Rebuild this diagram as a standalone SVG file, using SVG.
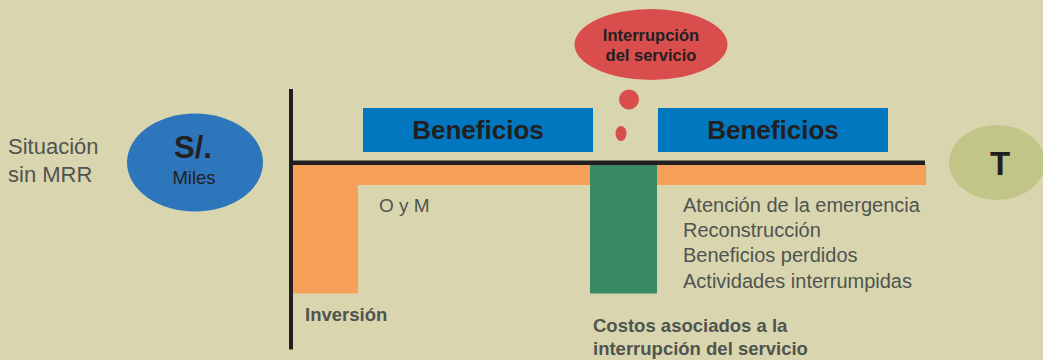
<svg xmlns="http://www.w3.org/2000/svg" width="1043" height="360" viewBox="0 0 1043 360">
<style>
.t{font-family:"Liberation Sans",Arial,sans-serif;fill:#4f5450}
.b{font-family:"Liberation Sans",Arial,sans-serif;font-weight:bold;fill:#231f20}
.g{font-family:"Liberation Sans",Arial,sans-serif;font-weight:bold;fill:#4f5450}
.box{fill:#0077be}
</style>
<rect x="0" y="0" width="1043" height="360" fill="#d9d6af"/>
<g id="situacion">
<text class="t" x="8" y="154" font-size="22">Situación</text>
<text class="t" x="8" y="182" font-size="22">sin MRR</text>
</g>
<g id="soles">
<ellipse cx="195" cy="162.5" rx="68" ry="49" fill="#2e76bb"/>
<text class="b" x="193" y="158" font-size="31" text-anchor="middle">S/.</text>
<text class="t" x="194" y="184" font-size="18.5" text-anchor="middle" style="fill:#231f20">Miles</text>
</g>
<g id="costos">
<rect x="293" y="164.5" width="633" height="20.5" fill="#f7a05a"/>
<rect x="293" y="164.5" width="65" height="129" fill="#f7a05a"/>
<rect x="590" y="164.5" width="67" height="129" fill="#378a63"/>
</g>
<g id="ejes">
<rect x="289" y="89" width="4" height="260.5" fill="#231f20"/>
<rect x="289" y="160.5" width="636" height="4.5" fill="#231f20"/>
</g>
<g id="beneficios1">
<rect class="box" x="363" y="108" width="230" height="44"/>
<text class="b" x="478" y="139" font-size="26" text-anchor="middle">Beneficios</text>
</g>
<g id="beneficios2">
<rect class="box" x="658" y="108" width="230" height="44"/>
<text class="b" x="773" y="139" font-size="26" text-anchor="middle">Beneficios</text>
</g>
<g id="interrupcion">
<ellipse cx="651" cy="44.5" rx="76.5" ry="35.5" fill="#d94d4d"/>
<text class="b" x="651" y="41" font-size="16.5" text-anchor="middle">Interrupción</text>
<text class="b" x="651" y="61" font-size="16.5" text-anchor="middle">del servicio</text>
<circle cx="629" cy="99.5" r="10" fill="#d94d4d"/>
<ellipse cx="621" cy="133.5" rx="5.5" ry="7.5" fill="#d94d4d"/>
</g>
<g id="tiempo">
<ellipse cx="997" cy="162.5" rx="48" ry="37.5" fill="#c2c588"/>
<text class="b" x="1000" y="175" font-size="33" text-anchor="middle">T</text>
</g>
<g id="labels">
<text class="t" x="379" y="212" font-size="19">O y M</text>
<text class="t" x="683" y="212" font-size="20">Atención de la emergencia</text>
<text class="t" x="683" y="237" font-size="20">Reconstrucción</text>
<text class="t" x="683" y="262" font-size="20">Beneficios perdidos</text>
<text class="t" x="683" y="288" font-size="20">Actividades interrumpidas</text>
<text class="g" x="305" y="321" font-size="18.5">Inversión</text>
<text class="g" x="593" y="331.5" font-size="18.5">Costos asociados a la</text>
<text class="g" x="593" y="355" font-size="18.5">interrupción del servicio</text>
</g>
</svg>
